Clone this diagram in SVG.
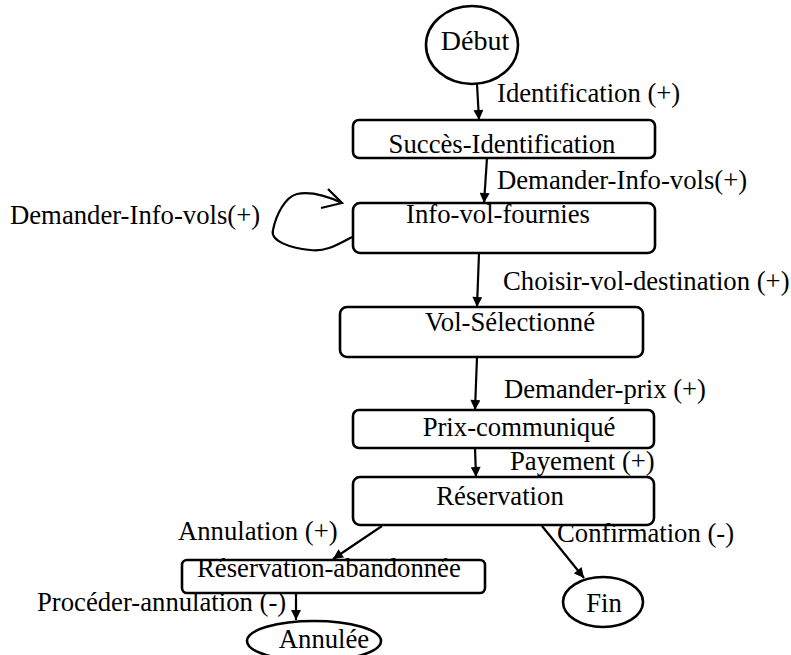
<svg xmlns="http://www.w3.org/2000/svg" width="791" height="655" viewBox="0 0 791 655">
  <style>
    text { font-family: "Liberation Serif", "Times New Roman", serif; font-size: 26.7px; fill: #000; }
    .state { fill: #fff; stroke: #000; stroke-width: 2.6; }
    .mid { text-anchor: middle; }
    .edge { fill: none; stroke: #000; stroke-width: 2.2; }
  </style>
  <defs>
    <marker id="arrow" viewBox="0 0 10 10" refX="10" refY="5" markerWidth="11" markerHeight="10" markerUnits="userSpaceOnUse" orient="auto">
      <path d="M0,0 L10,5 L0,10 z" fill="#000"/>
    </marker>
  </defs>

  <!-- states -->
  <g id="debut">
    <ellipse class="state" cx="472" cy="45" rx="46" ry="39"/>
    <text class="mid" x="475" y="50" style="font-size:28px">Début</text>
  </g>
  <g id="succes-identification">
    <rect class="state" x="353" y="120" width="302" height="38" rx="6"/>
    <text class="mid" x="502" y="153">Succès-Identification</text>
  </g>
  <g id="info-vol-fournies">
    <rect class="state" x="353" y="203" width="302" height="50" rx="7"/>
    <text class="mid" x="498" y="223">Info-vol-fournies</text>
  </g>
  <g id="vol-selectionne">
    <rect class="state" x="340" y="307" width="303" height="50" rx="7"/>
    <text class="mid" x="510" y="331">Vol-Sélectionné</text>
  </g>
  <g id="prix-communique">
    <rect class="state" x="353" y="410" width="301" height="38" rx="6"/>
    <text class="mid" x="519" y="436">Prix-communiqué</text>
  </g>
  <g id="reservation">
    <rect class="state" x="353" y="477" width="301" height="48" rx="7"/>
    <text class="mid" x="500" y="505">Réservation</text>
  </g>
  <g id="reservation-abandonnee">
    <rect class="state" x="182" y="560" width="303" height="33" rx="5"/>
    <text x="197" y="577">Réservation-abandonnée</text>
  </g>
  <g id="fin">
    <ellipse class="state" cx="603" cy="602" rx="40" ry="25"/>
    <text class="mid" x="604" y="612">Fin</text>
  </g>
  <g id="annulee">
    <ellipse class="state" cx="314" cy="641" rx="67" ry="20"/>
    <text class="mid" x="324" y="648">Annulée</text>
  </g>

  <!-- transitions -->
  <g id="connectors">
    <line class="edge" x1="477" y1="84" x2="479" y2="120" marker-end="url(#arrow)"/>
    <line class="edge" x1="487" y1="158" x2="484" y2="203" marker-end="url(#arrow)"/>
    <path class="edge" d="M352,237 C335,246 325,252 310,250 C290,248 270,241 273,230 C276,215 285,197 297,194 C312,191 327,196 342,203"/>
    <path class="edge" d="M328,189 L342,203 L321,208"/>
    <line class="edge" x1="479" y1="253" x2="477" y2="307" marker-end="url(#arrow)"/>
    <line class="edge" x1="477" y1="357" x2="475" y2="410" marker-end="url(#arrow)"/>
    <line class="edge" x1="475" y1="448" x2="476" y2="477" marker-end="url(#arrow)"/>
    <line class="edge" x1="382" y1="526" x2="333" y2="559" marker-end="url(#arrow)"/>
    <line class="edge" x1="542" y1="526" x2="584" y2="578" marker-end="url(#arrow)"/>
    <line class="edge" x1="296" y1="593" x2="296" y2="620" marker-end="url(#arrow)"/>
  </g>

  <!-- transition labels -->
  <g id="labels">
    <text x="497" y="102">Identification (+)</text>
    <text x="497" y="189">Demander-Info-vols(+)</text>
    <text x="10" y="224">Demander-Info-vols(+)</text>
    <text x="503" y="290">Choisir-vol-destination (+)</text>
    <text x="504" y="398">Demander-prix (+)</text>
    <text x="510" y="470">Payement (+)</text>
    <text x="178" y="540">Annulation (+)</text>
    <text x="557" y="542">Confirmation (-)</text>
    <text x="37" y="611">Procéder-annulation (-)</text>
  </g>
</svg>
